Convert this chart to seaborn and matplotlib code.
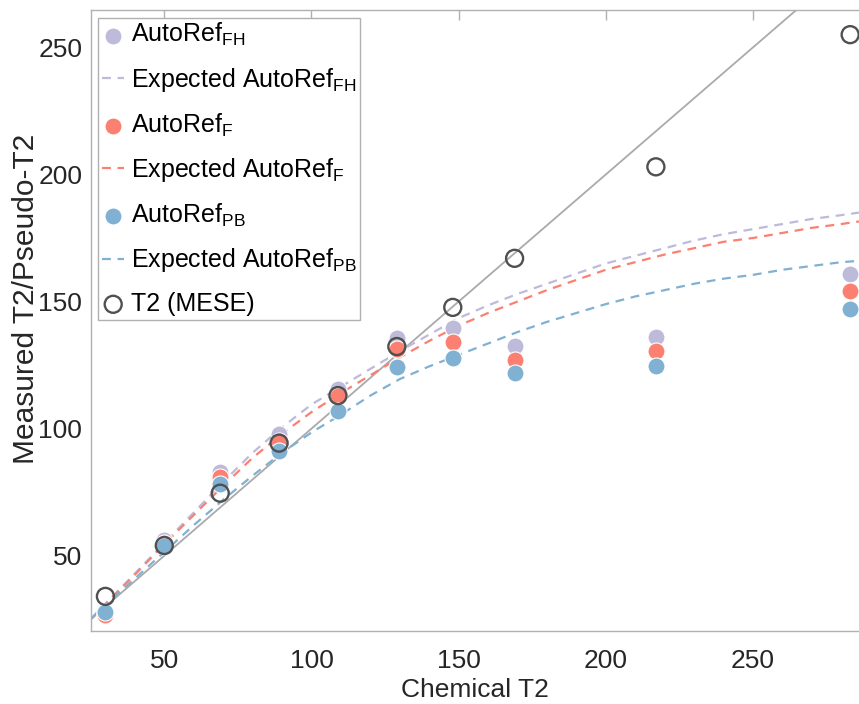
import numpy as np
import pandas as pd
import matplotlib
matplotlib.use('Agg')
import matplotlib.pyplot as plt
import seaborn as sns

# valores
chem_t2 = [30, 50, 69, 89, 109, 129, 148, 169, 217, 283]
autoref_fh = [27, 56, 83, 98, 115.5, 135.5, 139.5, 132.5, 136, 161]
autoref_f = [26.7, 55, 80.8, 95.2, 113, 131.3, 134, 127, 130.5, 154]
autoref_pb = [28, 53.7, 78.3, 91.2, 107, 124.4, 127.7, 121.8, 124.7, 147]
t2_mese = [34, 54, 74.6, 94.3, 113, 132.3, 147.7, 167, 203, 255]

curve_x = [25, 30, 40, 50, 60, 70, 80, 90, 100, 110, 120, 130, 140, 150,
           160, 170, 180, 190, 200, 210, 220, 230, 240, 250, 260, 270, 280, 286]
expected_fh = [25, 31, 43, 55, 67, 79, 90.5, 100.5, 109.5, 116.5, 123.5, 130.5, 137, 143.5,
               148.5, 153, 157, 161, 165, 168, 171, 174, 176.5, 178.5, 180.5, 182.5, 184, 185]
expected_f = [25, 31, 42.5, 54.5, 66, 77.5, 88.5, 98, 106.5, 114, 121, 128, 134.5, 140.5,
              145.5, 150, 154.5, 158.5, 162.5, 165.5, 168.5, 171, 173.5, 175, 177, 179, 180.5, 181.5]
expected_pb = [25, 30.5, 41, 51.5, 62, 72, 81.5, 90.5, 98.5, 105.5, 113, 119.5, 124.5, 129,
               133.5, 138, 142, 145.5, 149, 152, 154.5, 157, 159, 160.5, 162.5, 164, 165.5, 166]
identity = [0, 300]

sns.set_theme(style='white')
plt.rcParams['font.family'] = ['Liberation Sans', 'DejaVu Sans']
plt.rcParams['mathtext.default'] = 'regular'

c_fh = '#bebada'
c_f = '#fb8072'
c_pb = '#80b1d3'
spine_gray = '#b0b0b0'
text_col = '#262626'

fig = plt.figure(figsize=(8.59, 7.04), dpi=100)
ax = fig.add_axes([90.7 / 859, 73.3 / 704, (859 - 90.7) / 859, (630.7 - 10) / 704])

# linea identidad
sns.lineplot(x=identity, y=identity, ax=ax, color='#aaaaaa', linewidth=1.3, zorder=1)

# curvas esperadas
sns.lineplot(x=curve_x, y=expected_fh, ax=ax, color=c_fh, linestyle=(0, (4, 3)),
             linewidth=1.6, label='Expected AutoRef$_{FH}$', zorder=2)
sns.lineplot(x=curve_x, y=expected_f, ax=ax, color=c_f, linestyle=(0, (4, 3)),
             linewidth=1.6, label='Expected AutoRef$_{F}$', zorder=2)
sns.lineplot(x=curve_x, y=expected_pb, ax=ax, color=c_pb, linestyle=(0, (4, 3)),
             linewidth=1.6, label='Expected AutoRef$_{PB}$', zorder=2)

# puntos medidos
sns.scatterplot(x=chem_t2, y=autoref_fh, ax=ax, color=c_fh, s=150, edgecolor='white',
                linewidth=0.8, label='AutoRef$_{FH}$', zorder=3)
sns.scatterplot(x=chem_t2, y=autoref_f, ax=ax, color=c_f, s=150, edgecolor='white',
                linewidth=0.8, label='AutoRef$_{F}$', zorder=3)
sns.scatterplot(x=chem_t2, y=autoref_pb, ax=ax, color=c_pb, s=150, edgecolor='white',
                linewidth=0.8, label='AutoRef$_{PB}$', zorder=3)
sns.scatterplot(x=chem_t2, y=t2_mese, ax=ax, facecolor='none', s=150, edgecolor='#505050',
                linewidth=1.7, label='T2 (MESE)', zorder=4)

ax.set_xlim(25, 286)
ax.set_ylim(20.5, 264.7)
ax.set_xticks([50, 100, 150, 200, 250])
ax.set_yticks([50, 100, 150, 200, 250])

for s in ['left', 'bottom', 'top']:
    ax.spines[s].set_color(spine_gray)
    ax.spines[s].set_linewidth(1.0)
ax.spines['right'].set_visible(False)

ax.tick_params(axis='both', direction='in', length=7, width=1.0, color=spine_gray,
               labelcolor=text_col, labelsize=19)
ax.tick_params(axis='x', pad=13, top=True)
ax.tick_params(axis='y', pad=6)

ax.set_xlabel('Chemical T2', fontsize=19, color=text_col, labelpad=4)
ax.set_ylabel('Measured T2/Pseudo-T2', fontsize=21.5, color=text_col)
ax.yaxis.set_label_coords(-0.066, 0.535)

# leyenda en el orden del original
handles, labels = ax.get_legend_handles_labels()
hmap = dict(zip(labels, handles))
order = ['AutoRef$_{FH}$', 'Expected AutoRef$_{FH}$', 'AutoRef$_{F}$', 'Expected AutoRef$_{F}$',
         'AutoRef$_{PB}$', 'Expected AutoRef$_{PB}$', 'T2 (MESE)']
leg = ax.legend([hmap[k] for k in order], order, loc='upper left', fontsize=18,
                frameon=True, fancybox=False, edgecolor=spine_gray, framealpha=1,
                handlelength=0.9, handletextpad=0.25, borderpad=0.15, labelspacing=0.7,
                borderaxespad=0.3, markerscale=1.0)
leg.get_frame().set_linewidth(1.0)
for t in leg.get_texts():
    t.set_color('black')

plt.savefig('out.png', dpi=100)
